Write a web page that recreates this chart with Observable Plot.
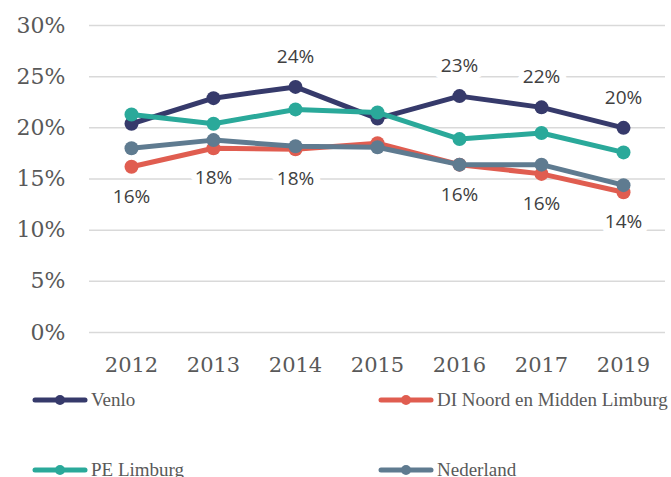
<!DOCTYPE html>
<html><head><meta charset="utf-8">
<script src="https://cdn.jsdelivr.net/npm/d3@7"></script>
<script src="https://cdn.jsdelivr.net/npm/@observablehq/plot@0.6"></script>
<style>
html,body{margin:0;padding:0;background:#fff;overflow:hidden;width:671px;height:477px}
#legend{position:relative;height:97px;font-family:"Liberation Serif";font-size:19px;color:#595959}
.item{position:absolute;display:flex;align-items:center;white-space:nowrap;height:22px;transform:translateY(-50%)}
.sw{width:56px;height:14px;margin-right:3px;display:block}
</style></head><body><div id="chart"></div><div id="legend"></div>
<script>
const years = ["2012","2013","2014","2015","2016","2017","2019"];
const venlo = [20.4,22.9,24.0,20.9,23.1,22.0,20.0];
const diNoordMidden = [16.2,18.0,17.9,18.5,16.4,15.5,13.7];
const peLimburg = [21.3,20.4,21.8,21.5,18.9,19.5,17.6];
const nederland = [18.0,18.8,18.2,18.1,16.4,16.4,14.4];
const seriesNames = ["Venlo","DI Noord en Midden Limburg","PE Limburg","Nederland"];
const seriesColors = ["#363a6b","#e05d50","#2aa99a","#5f7b90"];
const yTicks = [0,5,10,15,20,25,30];
const venloLabelYears = ["2014","2016","2017","2019"];
const diLabelYears = ["2012","2013","2014","2016","2017","2019"];

const seriesValues = [venlo, diNoordMidden, peLimburg, nederland];
const rows = seriesNames.map((s, si) => years.map((y, i) => ({series: s, year: y, value: seriesValues[si][i] / 100})));
const pct = d => Math.round(d.value * 100) + "%";
const venloLabels = rows[0].filter(d => venloLabelYears.includes(d.year));
const diLabels = rows[1].filter(d => diLabelYears.includes(d.year));

const marks = [
  Plot.gridY(yTicks.map(t => t / 100), {stroke: "#d9d9d9", strokeOpacity: 1, strokeWidth: 1.5}),
  Plot.axisY(yTicks.map(t => t / 100), {tickSize: 0, tickPadding: 24, tickFormat: d => Math.round(d * 100) + "%", fontSize: 22, fill: "#595959", fontFamily: "DejaVu Serif"}),
  Plot.axisX({tickSize: 0, tickPadding: 25, fontSize: 21, fill: "#595959", fontFamily: "DejaVu Serif"}),
  Plot.text(venloLabels, {x: "year", y: "value", text: pct, dy: -30, fontSize: 19, fill: "#404040", stroke: "white", strokeWidth: 14, fontFamily: "Open Sans"}),
  Plot.text(diLabels, {x: "year", y: "value", text: pct, dy: 30, fontSize: 19, fill: "#404040", stroke: "white", strokeWidth: 14, fontFamily: "Open Sans"})
];
rows.forEach(r => {
  marks.push(Plot.line(r, {x: "year", y: "value", stroke: "series", strokeWidth: 5}));
  marks.push(Plot.dot(r, {x: "year", y: "value", fill: "series", r: 7}));
});

const chart = Plot.plot({
  width: 671, height: 380,
  marginLeft: 89, marginRight: 6, marginTop: 25, marginBottom: 48,
  x: {type: "point", domain: years, padding: 0.5, label: null},
  y: {domain: [0, 0.30], label: null},
  color: {domain: seriesNames, range: seriesColors},
  style: {background: "white"},
  marks
});
document.getElementById("chart").appendChild(chart);

const legend = document.getElementById("legend");
const pos = [[32, 20], [378, 20], [32, 90], [378, 90]];
seriesNames.forEach((s, i) => {
  const it = document.createElement("div");
  it.className = "item";
  it.style.left = pos[i][0] + "px";
  it.style.top = pos[i][1] + "px";
  it.innerHTML = `<svg class="sw" viewBox="0 0 56 14"><line x1="3" y1="7" x2="53" y2="7" stroke="${seriesColors[i]}" stroke-width="5" stroke-linecap="round"/><circle cx="28" cy="7" r="5" fill="${seriesColors[i]}"/></svg><span>${s}</span>`;
  legend.appendChild(it);
});
</script></body></html>
